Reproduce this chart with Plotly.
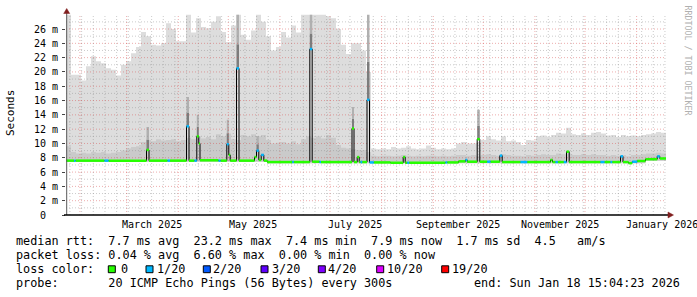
import pandas as pd
import plotly.graph_objects as go

# ---------------- data ----------------
START = pd.Timestamp("2025-01-23 15:04:23")
END = pd.Timestamp("2026-01-18 15:04:23")
DAY0 = pd.Timestamp("2025-01-01")          # median breakpoints are given in days since DAY0
BIN_DAYS = 3                                # smoke is read in 3-day bins
YMAX = 28.1

# smoke band upper bounds (ms), one value per 3-day bin (120 bins)
smoke_outer = [28.0, 19.6, 19.6, 18.8, 20.8, 22.2, 21.5, 21.2, 20.5, 20.3,
               19.5, 21.0, 21.5, 22.6, 23.5, 25.6, 25.0, 23.8, 23.7, 24.0,
               26.8, 26.0, 24.3, 24.3, 28.0, 25.5, 27.5, 26.3, 26.1, 27.0,
               27.8, 25.6, 24.2, 26.5, 28.0, 25.2, 24.5, 25.8, 28.0, 27.0,
               25.0, 23.0, 23.5, 25.6, 24.8, 26.5, 25.5, 28.0, 28.0, 28.0,
               28.0, 28.0, 27.8, 27.5, 26.0, 23.8, 22.5, 24.0, 24.0, 23.0,
               20.0, 9.3, 9.2, 9.3, 9.2, 9.5, 9.3, 9.4, 9.6, 9.3,
               9.2, 9.3, 9.7, 9.4, 9.2, 9.3, 9.2, 9.3, 10.0, 10.2,
               10.0, 10.0, 10.1, 10.5, 11.0, 10.6, 10.4, 11.0, 10.3, 10.4,
               10.2, 9.8, 10.5, 10.4, 11.0, 11.1, 10.9, 11.2, 11.5, 11.4,
               12.2, 11.3, 11.2, 11.4, 11.2, 11.5, 11.6, 11.4, 11.1, 11.2,
               10.9, 11.2, 11.0, 11.1, 11.0, 11.2, 11.3, 11.4, 11.6, 11.5]
smoke_inner = [9.6, 8.8, 8.6, 8.7, 8.6, 8.8, 8.7, 8.8, 8.6, 8.7,
               8.8, 9.0, 9.3, 9.5, 9.6, 10.2, 10.5, 10.3, 10.6, 10.4,
               10.5, 10.6, 10.3, 10.5, 10.8, 10.6, 11.0, 10.7, 10.9, 10.6,
               11.3, 11.0, 11.4, 10.6, 10.5, 11.2, 11.0, 11.3, 11.0, 11.2,
               10.5, 10.0, 10.1, 10.2, 10.0, 10.3, 9.9, 10.6, 11.0, 10.8,
               11.0, 10.7, 11.2, 10.8, 9.8, 9.4, 9.3, 9.2, 9.1, 9.1,
               8.8, 8.3, 8.2, 8.3, 8.3, 8.2, 8.3, 8.4, 8.3, 8.2,
               8.3, 8.2, 8.3, 8.3, 8.2, 8.3, 8.2, 8.3, 8.4, 8.4,
               8.3, 8.4, 8.3, 8.4, 8.5, 8.4, 8.3, 8.5, 8.4, 8.3,
               8.3, 8.2, 8.4, 8.3, 8.4, 8.5, 8.4, 8.4, 8.6, 8.5,
               8.6, 8.4, 8.4, 8.5, 8.4, 8.5, 8.4, 8.4, 8.3, 8.4,
               8.3, 8.4, 8.2, 8.4, 8.4, 8.5, 8.6, 8.6, 8.7, 8.6]
# lower edge of the smoke (step series)
floor_day = [22.63, 143.35, 370.33]
floor_ms = [7.45, 7.25, 7.6]

# median rtt (step series): start day, value (ms), loss index
med_day = [22.63, 27.43, 28.33, 45.73, 48.13, 70.93, 72.43, 83.53, 85.03, 94.93,
           96.43, 99.73, 101.11, 102.31, 103.03, 114.13, 115.33, 119.11, 120.31, 121.15,
           124.93, 126.43, 135.73, 136.93, 138.31, 139.75, 141.31, 143.35, 158.35, 159.31,
           168.91, 170.35, 174.73, 175.63, 194.23, 195.43, 197.35, 198.55, 199.33, 200.35,
           203.23, 204.73, 207.31, 217.33, 224.95, 226.15, 227.35, 228.55, 250.33, 251.35,
           258.13, 262.33, 263.35, 269.35, 270.91, 275.35, 277.33, 282.91, 284.35, 295.33,
           299.35, 313.33, 314.53, 316.33, 317.71, 321.31, 322.93, 324.55, 343.33, 345.73,
           349.33, 350.35, 355.33, 356.83, 360.13, 362.35, 365.35, 370.33, 377.35, 378.91]
med_ms = [7.6, 7.6, 7.6, 7.6, 7.6, 9.1, 7.6, 7.6, 7.6, 12.4,
          7.6, 7.6, 11.0, 10.0, 7.65, 7.6, 7.6, 9.9, 8.4, 7.6,
          20.5, 7.6, 8.1, 9.0, 7.7, 8.4, 7.6, 7.4, 7.4, 7.4,
          23.2, 7.45, 7.4, 7.4, 12.1, 7.4, 8.1, 7.4, 7.4, 7.4,
          16.1, 7.35, 7.35, 7.3, 8.1, 7.3, 7.3, 7.3, 7.35, 7.35,
          7.5, 7.7, 7.45, 10.6, 7.45, 7.45, 7.45, 8.3, 7.4, 7.4,
          7.4, 7.7, 7.4, 7.4, 7.4, 7.4, 8.85, 7.4, 7.4, 7.4,
          7.4, 7.4, 8.2, 7.4, 7.25, 7.45, 7.55, 7.8, 8.2, 7.9]
med_loss = [0, 1, 0, 1, 0, 0, 0, 1, 0, 1,
            0, 1, 0, 0, 0, 1, 0, 1, 0, 0,
            1, 0, 0, 1, 0, 1, 0, 0, 1, 0,
            1, 0, 1, 0, 0, 0, 0, 0, 1, 0,
            1, 1, 0, 0, 0, 0, 1, 0, 1, 0,
            0, 1, 0, 0, 0, 1, 0, 1, 0, 1,
            0, 0, 0, 1, 0, 1, 0, 0, 1, 0,
            1, 0, 1, 0, 0, 1, 0, 0, 1, 0]

# dark smoke columns above the big median spikes
col_day0 = [70.93, 94.93, 101.11, 119.11, 124.93, 136.93, 168.91, 194.23, 203.23, 269.35]
col_day1 = [72.43, 96.43, 102.31, 120.31, 126.43, 138.31, 170.35, 195.43, 204.73, 270.91]
col_base = [9.1, 12.4, 11.0, 9.9, 20.5, 9.0, 23.2, 12.1, 16.1, 10.6]
col_top = [12.3, 16.5, 14.0, 13.3, 28.0, 11.0, 28.0, 15.1, 28.0, 14.7]

loss_labels = ["0", "1/20", "2/20", "3/20", "4/20", "10/20", "19/20"]
loss_colors = ["#26ff00", "#00b8ff", "#0059ff", "#5e00ff", "#7e00ff", "#dd00ff", "#ff0000"]

tick_ms = [0, 2, 4, 6, 8, 10, 12, 14, 16, 18, 20, 22, 24, 26]
tick_ms_text = ["0\u00a0\u00a0"] + ["%d\u00a0m" % v for v in tick_ms[1:]]
tick_dates = ["2025-03-16", "2025-05-16", "2025-07-16", "2025-09-16", "2025-11-16", "2026-01-16"]
tick_date_text = ["March 2025", "May 2025", "July 2025", "September 2025", "November 2025", "January 2026"]

legend_rows = [
    "median rtt:  7.7 ms avg  23.2 ms max  7.4 ms min  7.9 ms now  1.7 ms sd  4.5   am/s",
    "packet loss: 0.04 % avg  6.60 % max  0.00 % min  0.00 % now",
    "loss color:",
    "probe:       20 ICMP Echo Pings (56 Bytes) every 300s",
]
end_text = "end: Sun Jan 18 15:04:23 2026"

# ---------------- helpers ----------------
def to_dt(d):
    return DAY0 + pd.to_timedelta(d, unit="D")

END_DAY = (END - DAY0) / pd.Timedelta(days=1)
MONO = "DejaVu Sans Mono"

def pxx(p):  # pixel -> paper x
    return (p - 66) / 600.0

def pxy(p):  # pixel -> paper y
    return (215 - p) / 201.0

fig = go.Figure()

# ---- smoke ----
edges = list(pd.date_range(START, periods=len(smoke_outer) + 1, freq="%dD" % BIN_DAYS))
floor_x = [to_dt(d) for d in floor_day] + [END]
floor_y = floor_ms + [floor_ms[-1]]

def add_band(upper, color):
    fig.add_trace(go.Scatter(x=floor_x, y=floor_y, mode="lines", line=dict(width=0, shape="hv"),
                             hoverinfo="skip", showlegend=False))
    fig.add_trace(go.Scatter(x=edges, y=upper + [upper[-1]], mode="lines",
                             line=dict(width=0, shape="hv"), fill="tonexty", fillcolor=color,
                             hoverinfo="skip", showlegend=False))

add_band(smoke_outer, "#dddddd")
add_band(smoke_inner, "#cacaca")

# ---- dark spike columns ----
def add_cols(frac0, frac1, color):
    xs, ys = [], []
    for d0, d1, b, t in zip(col_day0, col_day1, col_base, col_top):
        y0 = b + (t - b) * frac0
        y1 = b + (t - b) * frac1
        xs += [to_dt(d0), to_dt(d1), to_dt(d1), to_dt(d0), to_dt(d0), None]
        ys += [y0, y0, y1, y1, y0, None]
    fig.add_trace(go.Scatter(x=xs, y=ys, mode="lines", line=dict(width=0), fill="toself",
                             fillcolor=color, hoverinfo="skip", showlegend=False))

add_cols(0.0, 0.45, "#7c7c7c")
add_cols(0.45, 1.0, "#b0b0b0")

# ---- grid (drawn over the smoke, as RRDtool does) ----
month_starts = list(pd.date_range("2025-02-01", "2026-01-01", freq="MS"))
sundays = [d for d in pd.date_range("2025-01-26", "2026-01-18", freq="7D") if d not in month_starts]

def vlines(dates):
    xs, ys = [], []
    for d in dates:
        xs += [d, d, None]
        ys += [0, YMAX, None]
    return xs, ys

def hlines(vals):
    xs, ys = [], []
    for v in vals:
        xs += [START, END, None]
        ys += [v, v, None]
    return xs, ys

mx, my = vlines(sundays)
hx, hy = hlines(list(range(1, 28, 2)))
fig.add_trace(go.Scatter(x=mx + hx, y=my + hy, mode="lines",
                         line=dict(color="rgba(140,140,140,0.45)", width=1, dash="1px,2px"),
                         hoverinfo="skip", showlegend=False))
Mx, My = vlines(month_starts)
Hx, Hy = hlines(list(range(2, 27, 2)))
fig.add_trace(go.Scatter(x=Mx + Hx, y=My + Hy, mode="lines",
                         line=dict(color="rgba(215,70,70,0.45)", width=1, dash="1px,2px"),
                         hoverinfo="skip", showlegend=False))

# ---- median ----
med_x = [to_dt(d) for d in med_day] + [END]
fig.add_trace(go.Scatter(x=med_x, y=med_ms + [med_ms[-1]], mode="lines",
                         line=dict(color="#000000", width=1, shape="hv"),
                         hoverinfo="skip", showlegend=False))
days_ext = med_day + [END_DAY]
for li, col in enumerate(loss_colors):
    xs, ys = [], []
    for i in range(len(med_day)):
        if med_loss[i] != li:
            continue
        xs += [to_dt(days_ext[i]), to_dt(days_ext[i + 1]), None]
        ys += [med_ms[i], med_ms[i], None]
    if xs:
        fig.add_trace(go.Scatter(x=xs, y=ys, mode="lines", line=dict(color=col, width=2.5),
                                 hoverinfo="skip", showlegend=False))

# ---- axes ----
fig.update_layout(
    width=697, height=297,
    margin=dict(l=66, r=31, t=14, b=82),
    paper_bgcolor="white", plot_bgcolor="white",
    showlegend=False, hovermode=False,
    font=dict(family=MONO, size=10, color="#000000"),
    xaxis=dict(type="date", range=[START, END], showgrid=False, zeroline=False, showline=False,
               showticklabels=False, ticks=""),
    yaxis=dict(range=[0, YMAX], showgrid=False, zeroline=False, showline=False,
               tickmode="array", tickvals=tick_ms, ticktext=tick_ms_text, ticks="outside",
               ticklen=3, tickcolor="#444444", tickwidth=1,
               tickfont=dict(family=MONO, size=10, color="#000000"), ticklabelstandoff=2),
)

shapes = []
# y axis line + arrow
shapes.append(dict(type="line", xref="paper", yref="paper", x0=pxx(66.7), x1=pxx(66.7), y0=pxy(215), y1=pxy(12),
                   line=dict(color="#5a5a5a", width=1)))
shapes.append(dict(type="path", xref="paper", yref="paper",
                   path="M %f %f L %f %f L %f %f Z" % (pxx(63.7), pxy(13.5), pxx(69.7), pxy(13.5), pxx(66.7), pxy(8.5)),
                   fillcolor="#801f1f", line=dict(color="#801f1f", width=0.5)))
# x axis line + arrow
shapes.append(dict(type="line", xref="paper", yref="paper", x0=pxx(64), x1=pxx(669), y0=pxy(215), y1=pxy(215),
                   line=dict(color="#000000", width=1.3)))
shapes.append(dict(type="path", xref="paper", yref="paper",
                   path="M %f %f L %f %f L %f %f Z" % (pxx(668), pxy(212), pxx(668), pxy(218), pxx(673.5), pxy(215)),
                   fillcolor="#801f1f", line=dict(color="#801f1f", width=0.5)))

# loss colour boxes
box_px = [108.3, 146.0, 203.3, 261.0, 318.3, 376.7, 441.7]
lab_px = [120.7, 156.7, 213.3, 271.7, 328.3, 386.7, 451.7]
for bx, col in zip(box_px, loss_colors):
    shapes.append(dict(type="rect", xref="paper", yref="paper", x0=pxx(bx), x1=pxx(bx + 7), y0=pxy(272.7),
                       y1=pxy(265.8), fillcolor=col, line=dict(color="#000000", width=1)))
fig.update_layout(shapes=shapes)

ann = []
def text(s, x, y, anchor="left", size=11.8, color="#000000", angle=0):
    ann.append(dict(text=s.replace(" ", "\u00a0"), xref="paper", yref="paper", x=pxx(x), y=pxy(y),
                    xanchor=anchor, yanchor="middle", showarrow=False, textangle=angle,
                    font=dict(family=MONO, size=size, color=color), borderpad=0))

# x axis month labels, placed through the date axis
for d, lab in zip(tick_dates, tick_date_text):
    ann.append(dict(text=lab.replace(" ", "\u00a0"), xref="x", yref="paper", x=d, y=pxy(224.3),
                    xanchor="center", yanchor="middle", showarrow=False, borderpad=0,
                    font=dict(family=MONO, size=10, color="#000000")))

row_y = [240.8, 255.2, 269.2, 283.0]
for s, yy in zip(legend_rows, row_y):
    text(s, 15, yy)
for lx, lab in zip(lab_px, loss_labels):
    text(lab, lx - 1, row_y[2])
text(end_text, 681, row_y[3], anchor="right")
text("Seconds", 10.5, 113.5, anchor="center", size=11, angle=-90)
text("RRDTOOL / TOBI OETIKER", 687.5, 60, anchor="center", size=8.3, color="#b0b0b0", angle=90)
fig.update_layout(annotations=ann)

fig.write_html("out.html")
